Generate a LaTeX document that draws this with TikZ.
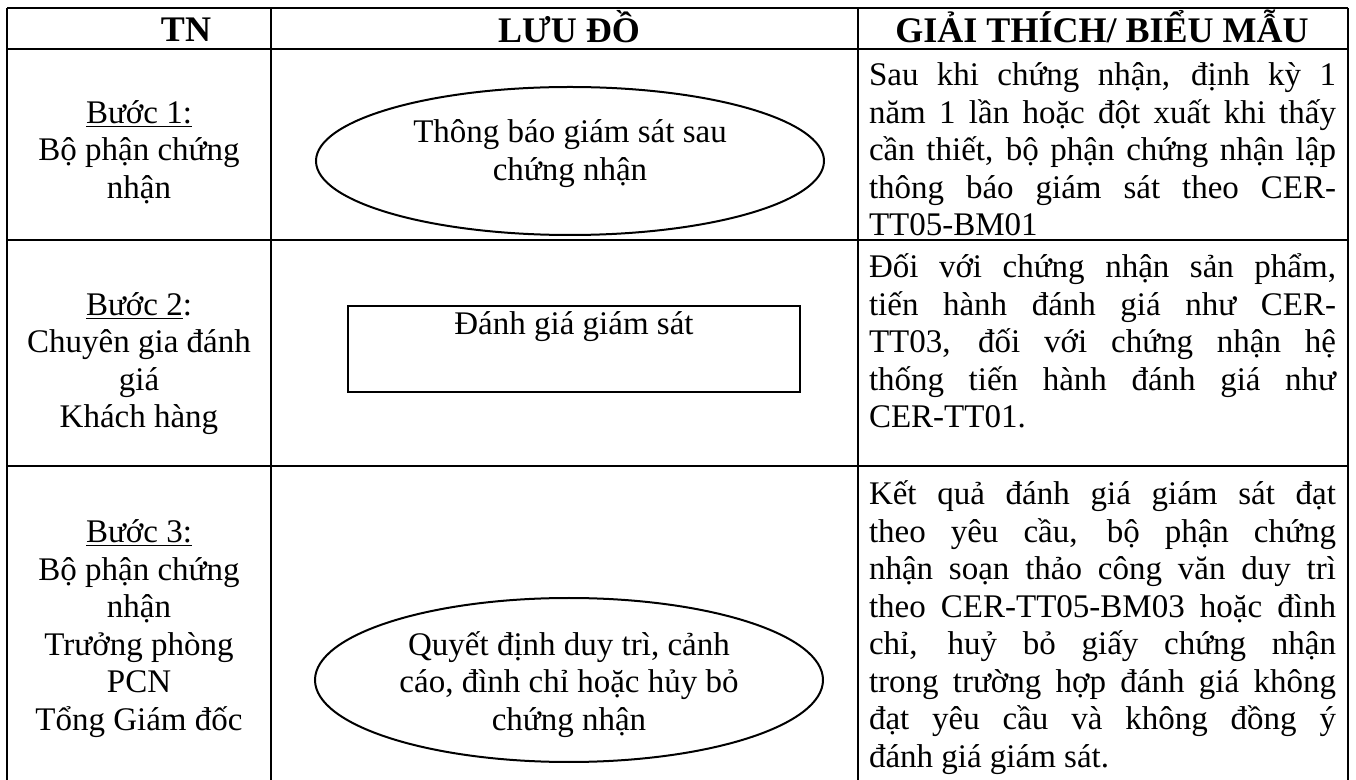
\documentclass[tikz,border=0pt]{standalone}
\usepackage{fontspec}
\setmainfont{Liberation Serif}
\usetikzlibrary{%
  shapes.geometric,% ellipse
  positioning%
}
\tolerance=10000
\hyphenpenalty=10000
\newcommand\fst{\rule{0pt}{16pt}}% first line: baseline 32 units below node top

\begin{document}
\begin{tikzpicture}[
  x=0.5pt, y=-0.5pt,
  line width=0.75pt,
  every node/.style={inner sep=0pt, outer sep=0pt},
  head/.style={font=\fontsize{18pt}{20pt}\bfseries\selectfont, anchor=north},
  who/.style={font=\fontsize{16.5pt}{18.75pt}\selectfont, align=center, anchor=north},
  note/.style={font=\fontsize{16.5pt}{18.75pt}\selectfont, text width=233.5pt,
    align=justify, anchor=north west},
  flowtxt/.style={who},
  oval/.style={draw, ellipse, line width=1pt, minimum width=254pt, minimum height=#1},
  actbox/.style={draw, rectangle, line width=1pt, minimum width=226pt, minimum height=43pt},
]

\useasboundingbox (0,0) rectangle (1356,780);
\clip (0,0) rectangle (1356,780);
\fill[white] (0,0) rectangle (1356,780);

% table
\foreach \xx in {7,271,858,1348} {
  \draw (\xx,8) -- (\xx,800);
}
\foreach \yy in {8,49,240,466} {
  \draw (7,\yy) -- (1348,\yy);
}

% header
\node[head] (tn) at (186,10) {\fst TN};
\node[head] (flowhead) at (569,10) {\fst LƯU ĐỒ};
\node[head] (notehead) at (1102,10) {\fst GIẢI THÍCH/ BIỂU MẪU};

% column TN
\node[who] (step1) at (139,91.5) {\fst\underline{Bước 1:}\\Bộ phận chứng\\nhận};
\node[who] (step2) at (139,283.5) {\fst\underline{Bước 2}:\\Chuyên gia đánh\\giá\\Khách hàng};
\node[who] (step3) at (139,510.5) {\fst\underline{Bước 3:}\\Bộ phận chứng\\nhận\\Trưởng phòng\\PCN\\Tổng Giám đốc};

% flow chart
\node[oval=74pt] (notice) at (570,161) {};
\node[flowtxt] (noticetxt) at (570,111) {\fst Thông báo giám sát sau\\chứng nhận};
\node[actbox] (audit) at (574,349) {};
\node[flowtxt] (audittxt) at (574,303) {\fst Đánh giá giám sát};
\node[oval=82pt] (decide) at (569,680) {};
\node[flowtxt] (decidetxt) at (569,623) {\fst Quyết định duy trì, cảnh\\cáo, đình chỉ hoặc hủy bỏ\\chứng nhận};

% explanations
\node[note] (note1) at (869,54) {\fst Sau khi chứng nhận, định kỳ 1\linebreak
  năm 1 lần hoặc đột xuất khi thấy\linebreak
  cần thiết, bộ phận chứng nhận lập\linebreak
  thông báo giám sát theo CER-\linebreak
  TT05-BM01};
\node[note] (note2) at (869,246) {\fst Đối với chứng nhận sản phẩm,\linebreak
  tiến hành đánh giá như CER-\linebreak
  TT03, đối với chứng nhận hệ\linebreak
  thống tiến hành đánh giá như\linebreak
  CER-TT01.};
\node[note] (note3) at (869,473) {\fst Kết quả đánh giá giám sát đạt\linebreak
  theo yêu cầu, bộ phận chứng\linebreak
  nhận soạn thảo công văn duy trì\linebreak
  theo CER-TT05-BM03 hoặc đình\linebreak
  chỉ, huỷ bỏ giấy chứng nhận\linebreak
  trong trường hợp đánh giá không\linebreak
  đạt yêu cầu và không đồng ý\linebreak
  đánh giá giám sát.};

\end{tikzpicture}
\end{document}
